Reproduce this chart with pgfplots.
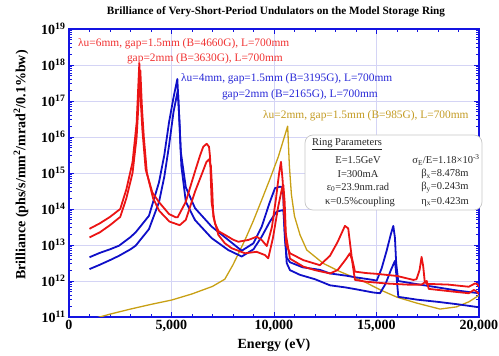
\documentclass[border=0pt]{standalone}
\usepackage{fontspec}
\setmainfont{Liberation Serif}
\usepackage{pgfplots}
\pgfplotsset{compat=1.18}
\usepackage{pgfplotstable}

\definecolor{cred}{RGB}{235,20,20}
\definecolor{cblue}{RGB}{15,15,200}
\definecolor{cgold}{RGB}{200,160,20}
\definecolor{caxis}{RGB}{20,20,225}
\definecolor{cgrid}{RGB}{212,212,245}
\definecolor{tred}{RGB}{240,50,50}
\definecolor{tblue}{RGB}{40,40,215}
\definecolor{tgold}{RGB}{195,155,35}

% lambda_u = 6 mm, gap 1.5 mm
\pgfplotstableread{
E B
1000 2.82e13
1500 3.98e13
2000 6.03e13
2500 1.0e14
2800 3.55e14
3100 2.0e15
3300 2.51e16
3430 1.12e18
3500 1.0e17
3580 1.58e16
3740 1.26e15
4065 2.88e14
4390 1.55e14
4880 7.24e13
5200 5.89e13
5300 5.89e13
5690 1.55e14
6150 1.12e15
6400 3.16e15
6550 5.37e15
6715 6.46e15
6830 5.37e15
6880 2.82e15
6960 1.45e14
7120 3.98e13
7300 2.4e13
7610 1.91e13
8000 1.41e13
8260 1.23e13
8750 1.38e13
9155 1.7e13
9400 1.38e13
9650 9.33e12
9900 3.16e13
10100 2.0e14
10250 1.0e15
10341 2.04e15
10420 6.31e14
10500 6.31e13
10600 1.0e13
10780 5.89e12
11430 3.8e12
12240 2.75e12
12730 5.01e12
13100 1.2e13
13460 3.39e13
13620 2.9e13
13790 4.68e12
13950 1.82e12
14500 1.66e12
15000 1.58e12
16000 1.38e12
16800 1.07e12
16950 1.12e12
17100 2.0e12
17200 4.68e12
17280 2.51e12
17350 1.0e12
17450 8.32e11
18500 7.94e11
19500 6.92e11
19800 8.51e11
19900 8.32e11
20000 6.92e11
}\redA

% lambda_u = 6 mm, gap 2 mm
\pgfplotstableread{
E B
1000 1.62e13
1500 2.24e13
2000 3.55e13
2500 6.03e13
2800 2.0e14
3100 1.0e15
3300 1.0e16
3480 7.08e17
3560 6.31e16
3650 1.0e16
3800 1.0e15
4100 2.0e14
4400 8.91e13
4900 4.47e13
5400 3.55e13
5700 5.01e13
6146 3.02e14
6500 1.0e15
6700 2.0e15
6830 2.4e15
6920 1.58e15
6990 3.16e14
7040 6.17e13
7285 1.91e13
7600 1.12e13
7935 8.13e12
8585 5.89e12
9155 6.46e12
9560 5.25e12
9720 4.27e12
9950 1.58e13
10200 1.12e14
10400 3.98e14
10455 4.68e14
10520 1.58e14
10580 2.0e13
10780 4.17e12
11430 2.51e12
12000 2.0e12
12730 1.62e12
13100 2.0e12
13500 3.98e12
13700 5.89e12
13800 3.98e12
13950 1.07e12
14500 9.55e11
15500 8.51e11
16500 7.94e11
17200 7.94e11
17450 1.0e12
17550 6.03e11
18500 5.25e11
19500 4.57e11
19750 5.62e11
19850 5.25e11
20000 4.37e11
}\redB

% lambda_u = 4 mm, gap 1.5 mm
\pgfplotstableread{
E B
1000 4.57e12
1500 6.03e12
2000 7.59e12
2440 9.55e12
3000 1.66e13
3250 2.24e13
3900 6.46e13
4390 5.5e14
4650 3.16e15
4880 2.57e16
5100 1.26e17
5285 4.07e17
5380 3.16e16
5450 3.98e15
5700 3.98e14
6150 1.05e14
6960 3.24e13
7770 1.38e13
8425 6.92e12
9000 1.12e13
9400 3.24e13
9800 1.58e14
10050 3.8e14
10300 4.17e14
10400 3.98e14
10450 2.51e14
10530 1.58e13
10620 4.47e12
10780 3.31e12
11400 2.4e12
12240 2.04e12
12730 1.62e12
13500 1.41e12
14000 1.26e12
14840 1.07e12
15010 1.02e12
15250 2.24e12
15500 7.08e12
15700 2.0e13
15820 3.39e13
15900 1.58e13
15960 3.16e12
16060 1.0e12
17000 8.13e11
18000 6.61e11
19000 5.37e11
20000 4.57e11
}\blueA

% lambda_u = 4 mm, gap 2 mm
\pgfplotstableread{
E B
1000 2.14e12
1500 2.82e12
2000 3.8e12
2440 5.01e12
3000 7.59e12
3250 9.55e12
3900 2.75e13
4390 1.55e14
4650 7.94e14
4880 5.75e15
5100 5.01e16
5310 2.0e17
5400 2.0e16
5480 1.58e15
5700 1.58e14
6150 4.9e13
6960 1.55e13
7770 7.24e12
8425 4.79e12
9000 7.59e12
9400 1.7e13
9800 4.47e13
10130 8.51e13
10455 9.33e13
10530 2.0e13
10620 3.16e12
10780 2.0e12
11270 1.48e12
12000 1.12e12
12730 7.59e11
13500 6.61e11
14000 5.89e11
14840 4.79e11
15170 4.57e11
15450 8.51e11
15700 2.0e12
15900 3.63e12
15980 1.26e12
16065 3.63e11
17000 3.02e11
18000 2.63e11
19000 2.24e11
20000 1.86e11
}\blueB

% lambda_u = 2 mm, gap 1.5 mm
\pgfplotstableread{
E B
1000 8.32e10
1500 1.0e11
2000 1.2e11
3000 1.66e11
4000 2.24e11
5000 2.95e11
6000 4.37e11
7000 7.08e11
7600 1.12e12
8000 2.82e12
8585 1.38e13
9000 4.79e13
9400 1.78e14
9800 6.76e14
10210 2.82e15
10666 2.0e16
10750 1.58e15
10850 2.51e14
11000 6.31e13
11270 1.91e13
11600 7.24e12
12400 3.09e12
13220 1.82e12
14400 9.55e11
15200 5.62e11
16000 3.55e11
17000 2.4e11
18100 1.66e11
18900 1.91e11
19500 2.63e11
20000 3.98e11
}\gold

\begin{document}
\begin{tikzpicture}
\begin{axis}[
  name=ax,
  scale only axis,
  width=410pt, height=288pt,
  xmin=0, xmax=20000,
  scaled x ticks=false,
  ymode=log, log basis y=10,
  ymin=1e11, ymax=1e19,
  xtick={0,5000,10000,15000,20000},
  xticklabels={0,{5,000},{10,000},{15,000},{20,000}},
  minor x tick num=4,
  ytick={1e11,1e12,1e13,1e14,1e15,1e16,1e17,1e18,1e19},
  yticklabels={10\textsuperscript{11},10\textsuperscript{12},10\textsuperscript{13},10\textsuperscript{14},10\textsuperscript{15},10\textsuperscript{16},10\textsuperscript{17},10\textsuperscript{18},10\textsuperscript{19}},
  minor ytick={2e11,3e11,4e11,5e11,6e11,7e11,8e11,9e11,
               2e12,3e12,4e12,5e12,6e12,7e12,8e12,9e12,
               2e13,3e13,4e13,5e13,6e13,7e13,8e13,9e13,
               2e14,3e14,4e14,5e14,6e14,7e14,8e14,9e14,
               2e15,3e15,4e15,5e15,6e15,7e15,8e15,9e15,
               2e16,3e16,4e16,5e16,6e16,7e16,8e16,9e16,
               2e17,3e17,4e17,5e17,6e17,7e17,8e17,9e17,
               2e18,3e18,4e18,5e18,6e18,7e18,8e18,9e18},
  grid=major,
  major grid style={cgrid, line width=0.7pt},
  axis line style={caxis, line width=1.8pt},
  tick style={caxis, line width=0.9pt},
  major tick length=5pt,
  minor tick length=3pt,
  tick align=inside,
  ticklabel style={font=\fontsize{14}{16}\selectfont\bfseries},
  every axis plot/.append style={line join=round},
]
\addplot[cgold, line width=1.3pt] table[x=E,y=B] {\gold};
\addplot[cblue, line width=1.8pt] table[x=E,y=B] {\blueA};
\addplot[cblue, line width=1.8pt] table[x=E,y=B] {\blueB};
\addplot[cred, line width=1.8pt] table[x=E,y=B] {\redA};
\addplot[cred, line width=1.8pt] table[x=E,y=B] {\redB};
\end{axis}

% title and axis labels
\node[font=\fontsize{11.2}{13}\selectfont\bfseries] at ([shift={(2pt,17pt)}]ax.north) {Brilliance of Very-Short-Period Undulators on the Model Storage Ring};
\node[font=\fontsize{14}{16}\selectfont\bfseries] at ([yshift=-28pt]ax.south) {Energy (eV)};
\node[font=\fontsize{14}{16}\selectfont\bfseries, rotate=90] at ([shift={(-48pt,152pt)}]ax.south west) {Brilliance (phs/s/mm\textsuperscript{2}/mrad\textsuperscript{2}/0.1\%bw)};

% curve annotations
\begin{scope}[every node/.style={font=\fontsize{11.4}{13}\selectfont, inner sep=0pt}]
\node[anchor=west, text=tred] at ([shift={(9pt,273pt)}]ax.south west) {λu=6mm, gap=1.5mm (B=4660G), L=700mm};
\node[anchor=east, text=tred] at ([shift={(214pt,258pt)}]ax.south west) {gap=2mm (B=3630G), L=700mm};
\node[anchor=west, text=tblue] at ([shift={(112pt,238pt)}]ax.south west) {λu=4mm, gap=1.5mm (B=3195G), L=700mm};
\node[anchor=east, text=tblue] at ([shift={(309pt,222pt)}]ax.south west) {gap=2mm (B=2165G), L=700mm};
\node[anchor=west, text=tgold] at ([shift={(194pt,201pt)}]ax.south west) {λu=2mm, gap=1.5mm (B=985G), L=700mm};
\end{scope}

% ring parameters box
\draw[black!22, fill=white, rounded corners=8pt, line width=0.7pt]
  ([shift={(236pt,107pt)}]ax.south west) rectangle ([shift={(413pt,182pt)}]ax.south west);
\begin{scope}[every node/.style={font=\fontsize{10.5}{12}\selectfont, inner sep=0pt, text=black!85}]
\node[anchor=west] at ([shift={(243pt,173pt)}]ax.south west) {\underline{Ring Parameters}};
\node at ([shift={(289pt,157pt)}]ax.south west) {E=1.5GeV};
\node at ([shift={(289pt,143pt)}]ax.south west) {I=300mA};
\node at ([shift={(289pt,129.7pt)}]ax.south west) {ε\textsubscript{0}=23.9nm.rad};
\node at ([shift={(291pt,115.3pt)}]ax.south west) {κ=0.5\%coupling};
\node at ([shift={(377pt,157pt)}]ax.south west) {σ\textsubscript{E}/E=1.18×10\textsuperscript{-3}};
\node at ([shift={(376pt,143pt)}]ax.south west) {β\textsubscript{x}=8.478m};
\node at ([shift={(376pt,129.7pt)}]ax.south west) {β\textsubscript{y}=0.243m};
\node at ([shift={(376pt,115.3pt)}]ax.south west) {η\textsubscript{x}=0.423m};
\end{scope}

\pgfresetboundingbox
\path ([shift={(-69pt,-39pt)}]ax.south west) rectangle ([shift={(430pt,317pt)}]ax.south west);
\end{tikzpicture}
\end{document}
